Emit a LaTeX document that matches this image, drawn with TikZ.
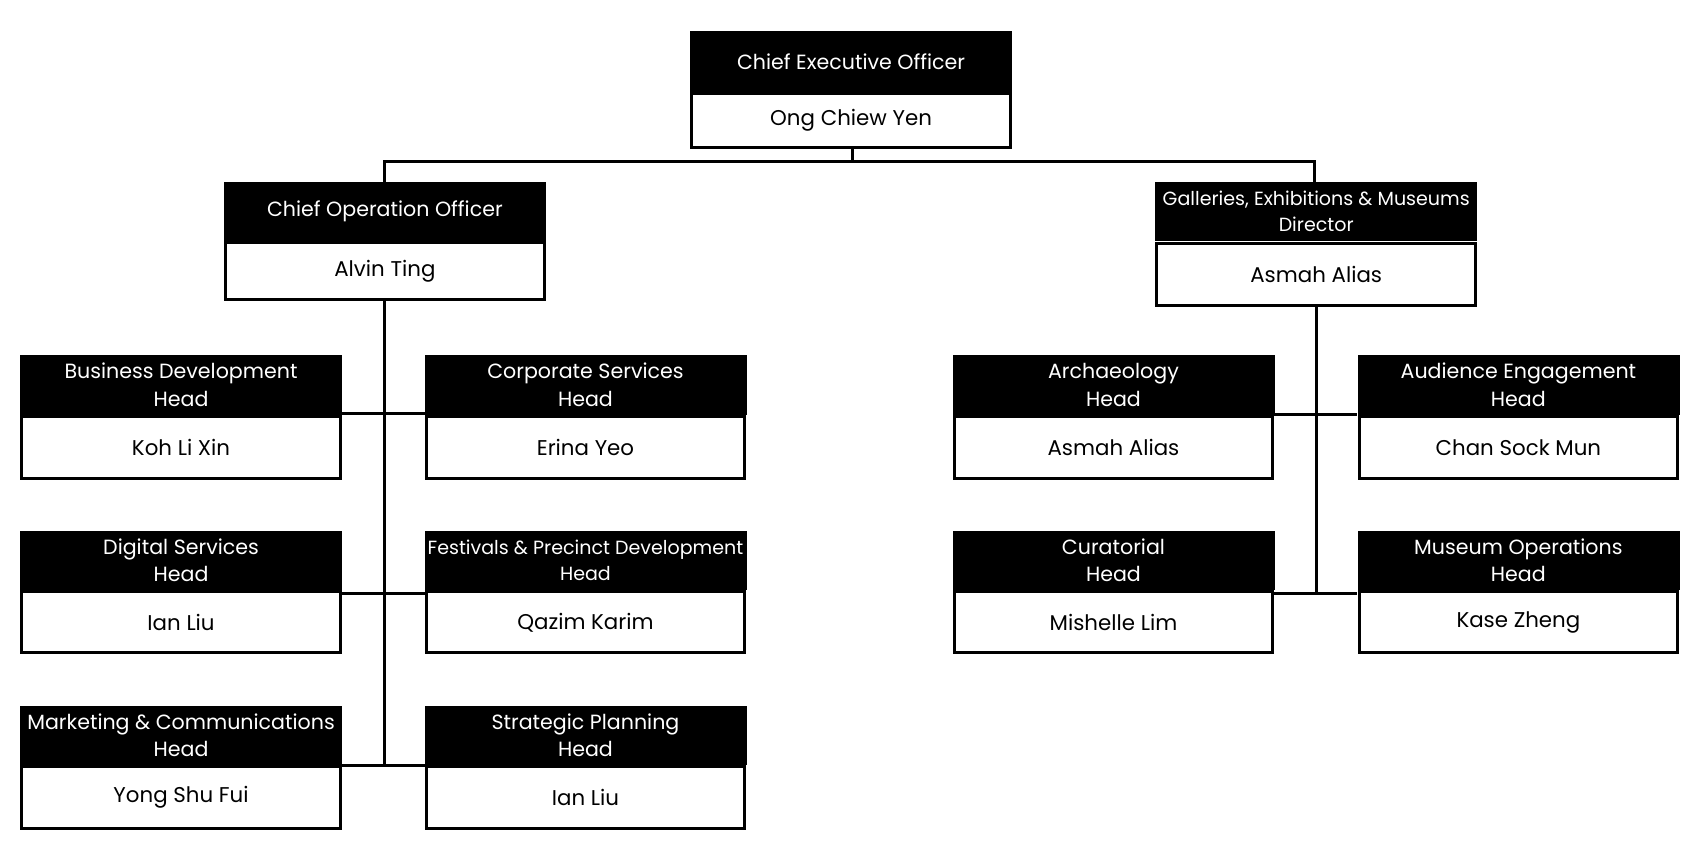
\documentclass[tikz,border=0pt]{standalone}
\usepackage{fontspec}
\setmainfont{Poppins}
\begin{document}
\begin{tikzpicture}[x=0.025cm,y=-0.025cm,
  hdr/.style={fill=black,text=white,draw=black,minimum width=296*0.025cm,inner sep=0pt,align=center,font=\fontsize{13.5}{18}\selectfont},
  nm/.style={draw=black,line width=2pt,fill=white,minimum width=294*0.025cm,inner sep=0pt,align=center,font=\fontsize{14}{18}\selectfont},
  ln/.style={line width=2pt}]
\useasboundingbox[fill=white] (0,0) rectangle (1568,784);
\newcommand{\orgbox}[7]{% name, x1, x2, hy1, hy2, ny2, header
  \node[hdr,minimum height=(#5-#4)*0.025cm] (#1h) at ({(#2+#3)/2},{(#4+#5)/2}) {#7};
}
% connectors first
\draw[ln] (786,136) -- (786,149) -- (355,149) -- (355,168);
\draw[ln] (786,149) -- (1212,149) -- (1212,168);
\draw[ln] (355,276) -- (355,706);
\draw[ln] (315,381) -- (392,381);
\draw[ln] (315,547) -- (392,547);
\draw[ln] (315,706) -- (392,706);
\draw[ln] (1214,281) -- (1214,547);
\draw[ln] (1175,382) -- (1252,382);
\draw[ln] (1175,547) -- (1252,547);
\def\B#1#2#3#4#5#6#7#8#9{%
  \node[hdr,minimum height={(#5-#4)*0.025cm}] (#1h) at ({(#2+#3)/2},{(#4+#5)/2}) {#7};
  \node[nm,minimum height={(#6-#5-2)*0.025cm}] (#1n) at ({(#2+#3)/2},{(#5+2+#6)/2}) {#8};}
\B{ceo}{637}{933}{29}{84}{136}{Chief Executive Officer}{Ong Chiew Yen}{}
\B{coo}{207}{503}{168}{222}{276}{Chief Operation Officer}{Alvin Ting}{}
\node[hdr,minimum height={54*0.025cm},font=\fontsize{12.5}{17}\selectfont] (gemh) at (1214,195) {Galleries, Exhibitions \& Museums\\Director};
\node[nm,minimum height={57*0.025cm}] (gemn) at (1214,253) {Asmah Alias};
\B{bd}{19}{315}{328}{382}{441}{Business Development\\Head}{Koh Li Xin}{}
\B{cs}{392}{688}{328}{382}{441}{Corporate Services\\Head}{Erina Yeo}{}
\B{ds}{19}{315}{490}{544}{602}{Digital Services\\Head}{Ian Liu}{}
\node[hdr,minimum height={54*0.025cm},font=\fontsize{12.5}{17}\selectfont] (fph) at (540,517) {Festivals \& Precinct Development\\Head};
\node[nm,minimum height={56*0.025cm}] (fpn) at (540,574) {Qazim Karim};
\B{mc}{19}{315}{651}{705}{764}{Marketing \& Communications\\Head}{Yong Shu Fui}{}
\B{sp}{392}{688}{651}{705}{764}{Strategic Planning\\Head}{Ian Liu}{}
\B{ar}{879}{1175}{328}{382}{441}{Archaeology\\Head}{Asmah Alias}{}
\B{ae}{1252}{1549}{328}{382}{441}{Audience Engagement\\Head}{Chan Sock Mun}{}
\B{cu}{879}{1175}{490}{544}{602}{Curatorial\\Head}{Mishelle Lim}{}
\B{mo}{1252}{1549}{490}{544}{602}{Museum Operations\\Head}{Kase Zheng}{}
\end{tikzpicture}
\end{document}
